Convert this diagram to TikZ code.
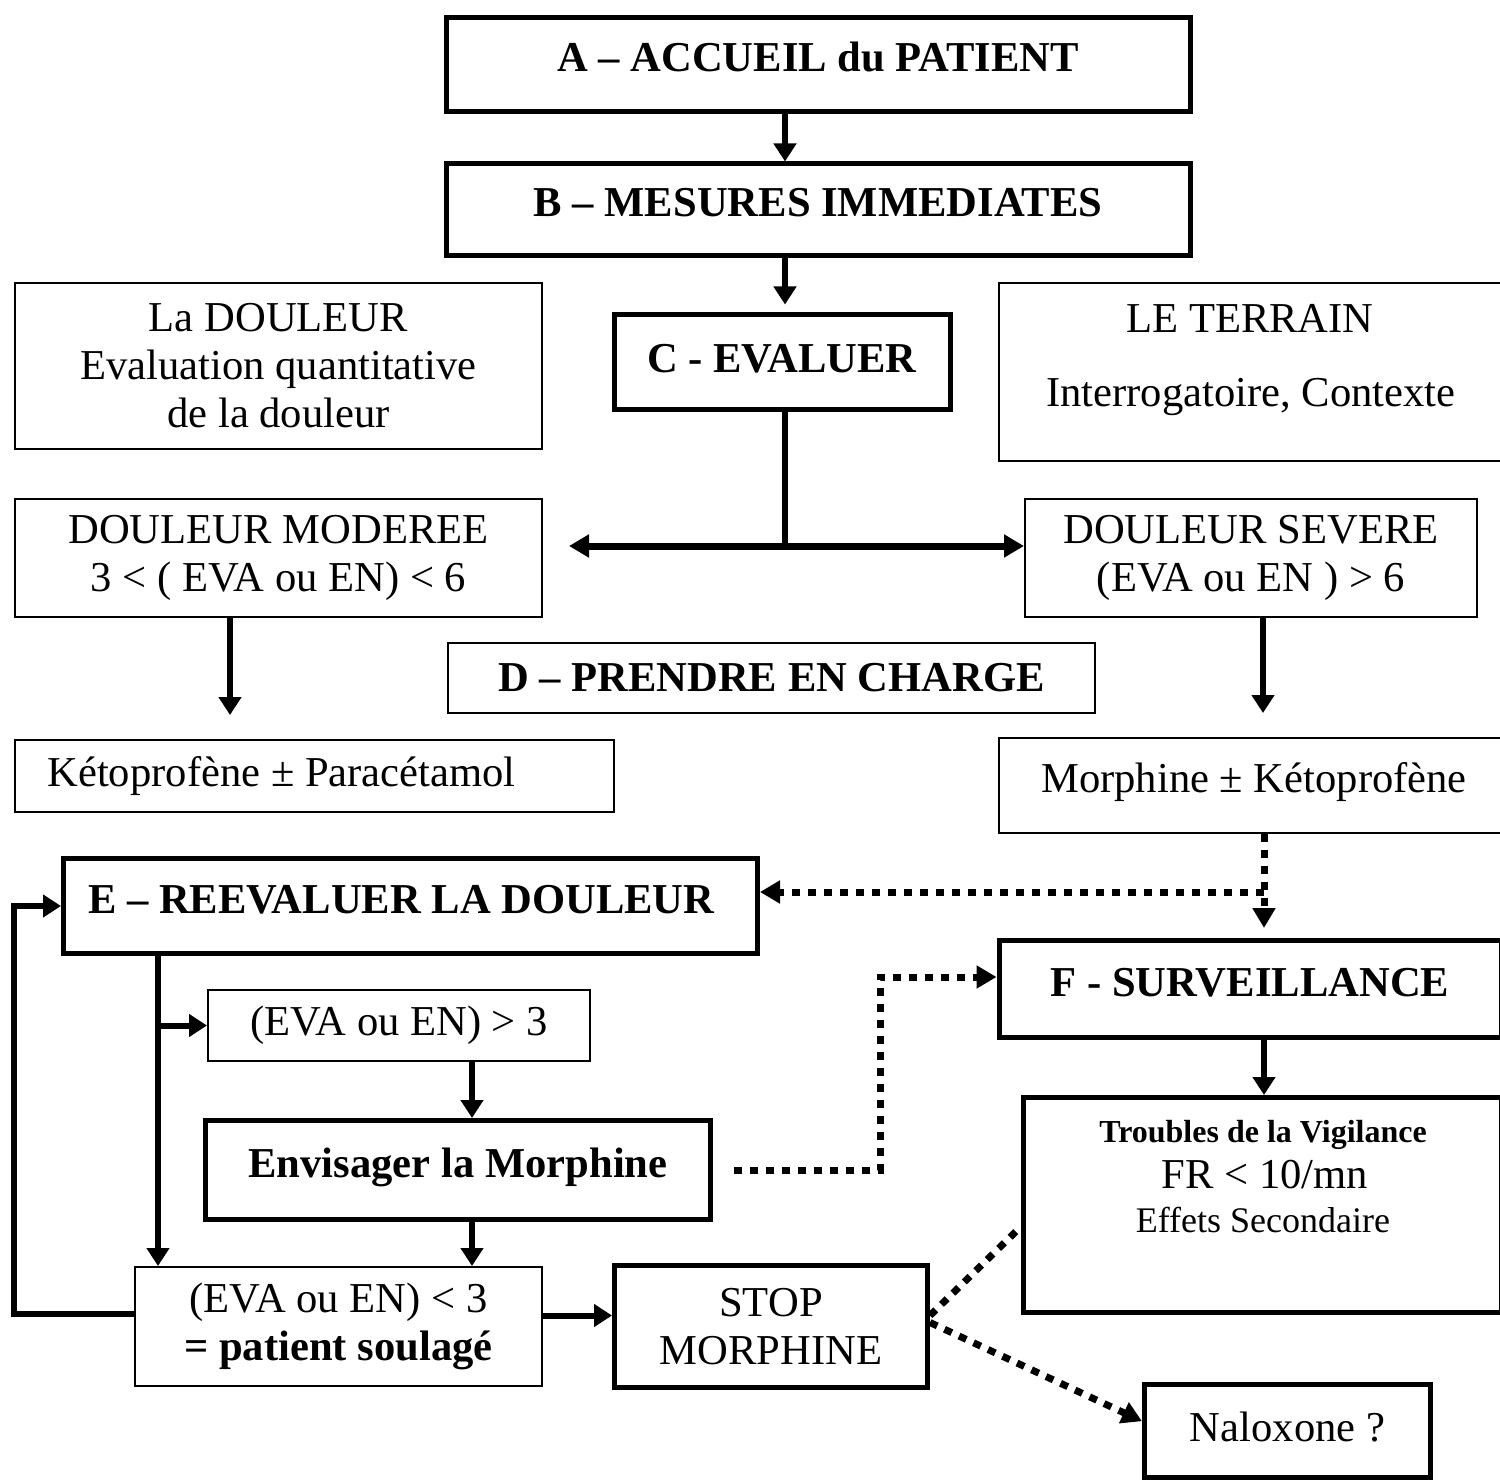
\documentclass[tikz,border=0pt]{standalone}
\usepackage{fontspec}
\setmainfont{Liberation Serif}
\usetikzlibrary{arrows.meta,positioning,calc}

\begin{document}
\begin{tikzpicture}[
    x=0.5pt,y=-0.5pt,
    plainbox/.style={draw,line width=1pt,inner sep=0pt,align=center,font={\fontsize{21.3}{24}\selectfont}},
    boldbox/.style={plainbox,line width=2.5pt},
    raised/.style={text height=15pt,text depth=#1},
    raised/.default=8pt,
    txt/.style={inner sep=0pt,anchor=base,font={\fontsize{21.3}{24}\selectfont}},
    arr/.style={-{Triangle[length=9pt,width=11pt]},line width=3pt},
    dblarr/.style={{Triangle[length=10pt,width=11pt]}-{Triangle[length=10pt,width=11pt]},line width=3.5pt},
    dotline/.style={line width=3.5pt,dash pattern=on 4pt off 4pt},
    dotarr/.style={dotline,-{Triangle[length=10pt,width=11pt]}}
]
    \useasboundingbox (0,0) rectangle (1500,1482);

    % upper part
    \node[boldbox,raised,minimum width=372pt,minimum height=47pt] (accueil) at (818,65) {\textbf{A – ACCUEIL du PATIENT}};
    \node[boldbox,raised,minimum width=372pt,minimum height=46pt] (mesures) at (818,210) {\textbf{B – MESURES IMMEDIATES}};
    \node[boldbox,raised=5pt,minimum width=168pt,minimum height=47pt] (evaluer) at (782,362) {\textbf{C - EVALUER}};
    \node[plainbox,minimum width=263.5pt,minimum height=83pt] (douleur) at (278.5,366) {La DOULEUR\\Evaluation quantitative\\de la douleur};
    \node[plainbox,minimum width=255.5pt,minimum height=89pt] (terrain) at (1254,372) {};
    \node[txt] (terraintop) at (1250,333) {LE TERRAIN};
    \node[txt] (terrainbot) at (1251,407) {Interrogatoire, Contexte};
    \node[plainbox,minimum width=263.5pt,minimum height=59pt] (moderee) at (278.5,558) {DOULEUR MODEREE\\3 < ( EVA ou EN) < 6};
    \node[plainbox,minimum width=226pt,minimum height=59pt] (severe) at (1251,558) {DOULEUR SEVERE\\(EVA ou EN ) > 6};
    \node[plainbox,minimum width=323.5pt,minimum height=35pt] (charge) at (771.5,678) {\textbf{D – PRENDRE EN CHARGE}};
    \node[plainbox,minimum width=299.5pt,minimum height=36pt] (keto) at (314.5,776) {Kétoprofène ± Paracétamol\hspace*{33pt}};
    \node[plainbox,raised,minimum width=255.5pt,minimum height=47.5pt] (morph) at (1254,785.5) {Morphine ± Kétoprofène};

    % lower part
    \node[boldbox,raised,minimum width=347pt,minimum height=47.5pt] (reeval) at (410.5,906) {\textbf{E – REEVALUER LA DOULEUR}\hspace*{9pt}};
    \node[boldbox,raised,minimum width=251pt,minimum height=48.5pt] (surv) at (1250,989) {\textbf{F - SURVEILLANCE}};
    \node[boldbox,minimum width=239pt,minimum height=107.5pt] (trbl) at (1262,1205) {};
    \node[txt,font={\fontsize{16}{18}\selectfont\bfseries}] (trbltop) at (1263,1142) {Troubles de la Vigilance};
    \node[txt] (trblmid) at (1265,1188) {FR < 10/mn};
    \node[txt,font={\fontsize{18}{20}\selectfont}] (trblbot) at (1263,1232) {Effets Secondaire};
    \node[plainbox,minimum width=191pt,minimum height=35.5pt] (highok) at (399,1025.5) {(EVA ou EN) > 3};
    \node[boldbox,raised,minimum width=252.5pt,minimum height=49.5pt] (envis) at (458,1170) {\textbf{Envisager la Morphine}};
    \node[plainbox,minimum width=203.5pt,minimum height=59.5pt] (lowok) at (338.5,1326.5) {(EVA ou EN) < 3\\\textbf{= patient soulagé}};
    \node[boldbox,minimum width=156.5pt,minimum height=61pt] (stop) at (771,1326.5) {STOP\\MORPHINE};
    \node[boldbox,raised=5pt,minimum width=143pt,minimum height=46.5pt] (nalox) at (1287.5,1431) {Naloxone ?};

    \coordinate (cx) at (785,0);
    \coordinate (split) at (785,546);
    \coordinate (dleft) at (569,546);
    \coordinate (lkx) at (230,0);
    \coordinate (rkx) at (1263,0);
    \coordinate (fx) at (1264,892);
    \coordinate (lx) at (158,0);
    \coordinate (mx) at (472,0);
    \coordinate (dbend) at (880,977);

    \draw[arr] (accueil.south -| cx) -- (mesures.north -| cx);
    \draw[arr,shorten >=4pt] (mesures.south -| cx) -- (evaluer.north -| cx);
    \draw[line width=3pt] (evaluer.south -| cx) -- (split);
    \draw[dblarr] (dleft) -- (split -| severe.west);
    \draw[arr,shorten >=12pt] (moderee.south -| lkx) -- (keto.north -| lkx);
    \draw[arr,shorten >=12pt] (severe.south -| rkx) -- (morph.north -| rkx);
    \draw[dotarr,shorten >=5pt] (morph.south -| fx) -- (surv.north -| fx);
    \draw[dotarr] (fx) -- (fx -| reeval.east);
    \draw[arr] (surv.south -| fx) -- (trbl.north -| fx);

    \draw[arr] (reeval.south -| lx) -- (lowok.north -| lx);
    \draw[arr] (highok.west -| lx) -- (highok.west);
    \draw[arr] (highok.south -| mx) -- (envis.north -| mx);
    \draw[arr] (envis.south -| mx) -- (lowok.north -| mx);
    \draw[dotarr] ([xshift=10.5pt]envis.east) -| (dbend) -- (dbend -| surv.west);
    \draw[arr] ([yshift=5.5pt]lowok.east) -- ([yshift=5.5pt]stop.west);
    \draw[arr] ([yshift=6.5pt]lowok.west) -- ++(-120,0) |- (reeval.west);
    \draw[dotline] ([yshift=5.5pt]stop.east) -- ($(trbl.south west)!0.4!(trbl.north west)$);
    \draw[dotarr] ([yshift=2pt]stop.east) -- ($(nalox.south west)!0.6!(nalox.north west)$);
\end{tikzpicture}
\end{document}
